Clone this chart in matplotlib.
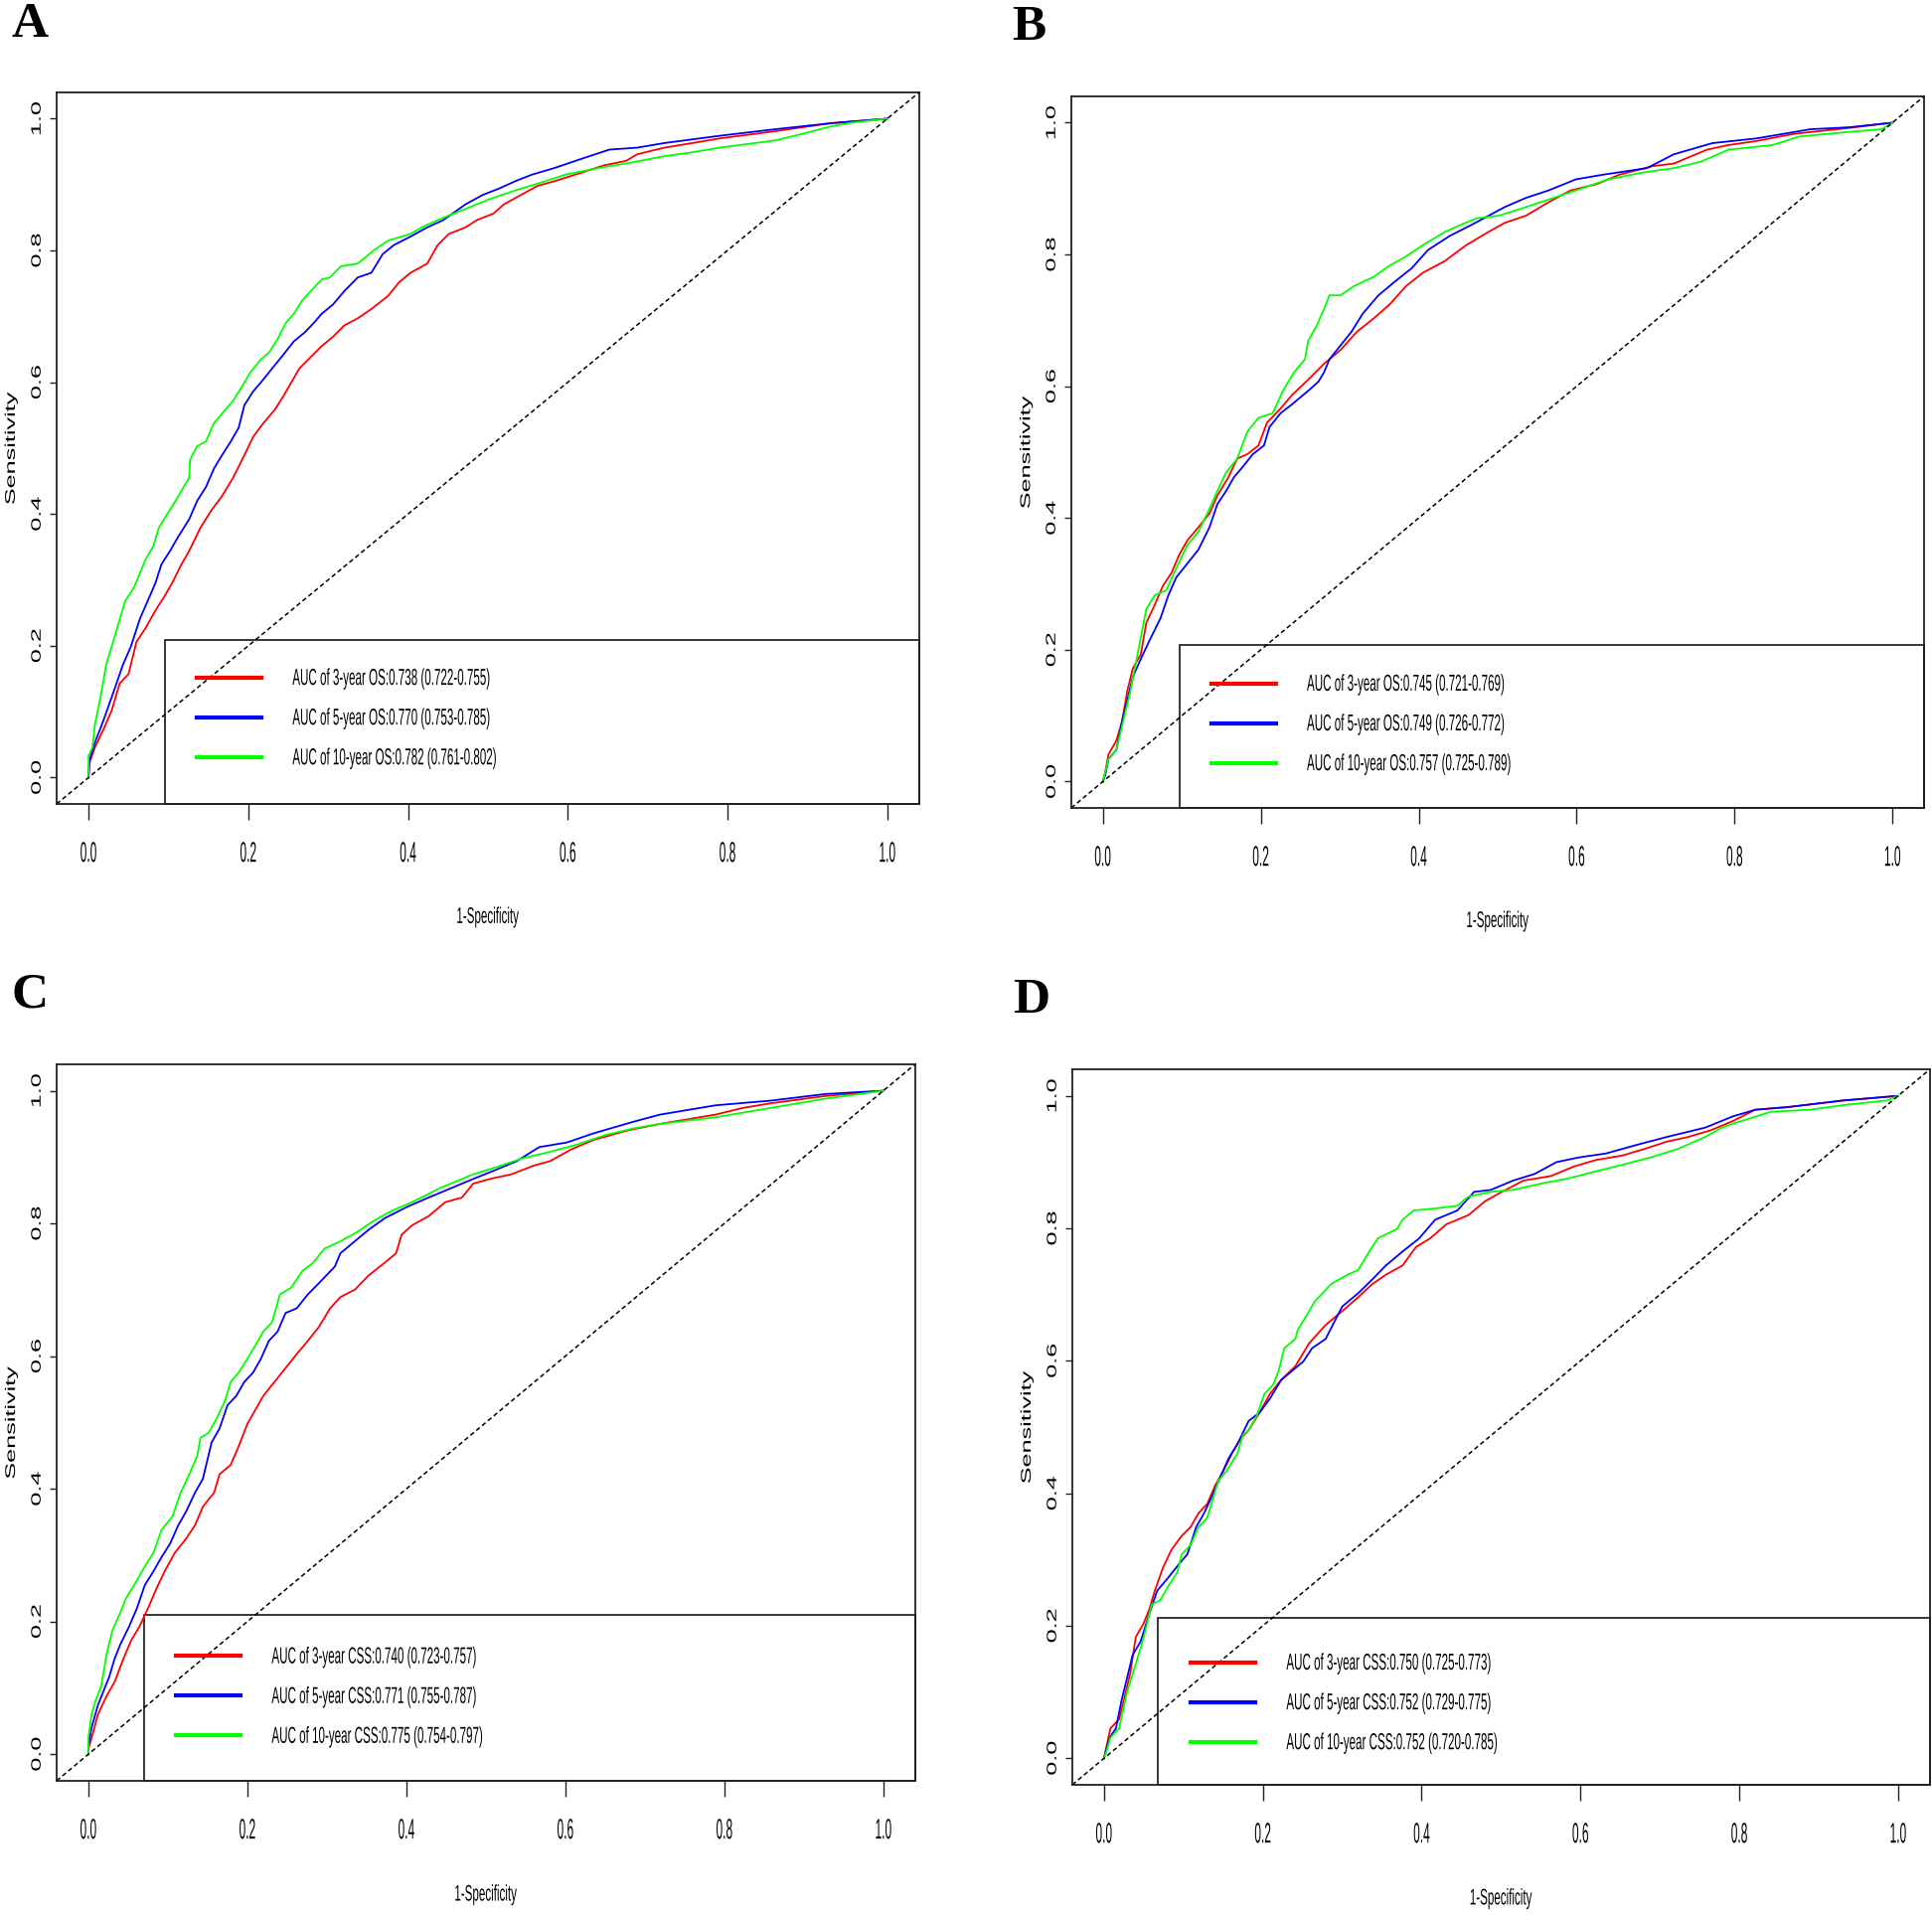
import matplotlib
matplotlib.use("Agg")
import matplotlib.pyplot as plt
from matplotlib.patches import Rectangle
from matplotlib.patheffects import AbstractPathEffect
from matplotlib.transforms import Affine2D

# ---- data (1-specificity, sensitivity) ----
a_fpr_3y = [0, 0.001, 0.008, 0.019, 0.029, 0.039, 0.050, 0.060, 0.071, 0.084, 0.095, 0.105, 0.116, 0.126, 0.140, 0.154, 0.167, 0.181, 0.195, 0.206, 0.219, 0.233, 0.244, 0.254, 0.264, 0.278, 0.292, 0.306, 0.320, 0.337, 0.354, 0.375, 0.389, 0.403, 0.424, 0.437, 0.451, 0.472, 0.486, 0.507, 0.520, 0.541, 0.562, 0.583, 0.617, 0.645, 0.673, 0.687, 0.721, 0.756, 0.790, 0.860, 0.929, 1.0]
a_tpr_3y = [0, 0.022, 0.046, 0.074, 0.102, 0.143, 0.157, 0.206, 0.226, 0.254, 0.275, 0.296, 0.323, 0.344, 0.379, 0.406, 0.427, 0.455, 0.489, 0.517, 0.538, 0.558, 0.579, 0.600, 0.621, 0.638, 0.655, 0.669, 0.686, 0.697, 0.711, 0.731, 0.752, 0.766, 0.780, 0.808, 0.825, 0.835, 0.846, 0.856, 0.870, 0.884, 0.898, 0.905, 0.918, 0.929, 0.936, 0.946, 0.956, 0.963, 0.970, 0.981, 0.993, 1.0]
a_fpr_5y = [0, 0.001, 0.008, 0.019, 0.029, 0.043, 0.053, 0.064, 0.074, 0.084, 0.091, 0.102, 0.112, 0.126, 0.136, 0.147, 0.157, 0.167, 0.178, 0.188, 0.195, 0.206, 0.216, 0.230, 0.244, 0.257, 0.271, 0.282, 0.292, 0.306, 0.320, 0.337, 0.354, 0.368, 0.382, 0.403, 0.424, 0.444, 0.472, 0.493, 0.514, 0.534, 0.555, 0.583, 0.617, 0.652, 0.687, 0.721, 0.790, 0.860, 0.929, 1.0]
a_tpr_5y = [0, 0.026, 0.053, 0.088, 0.122, 0.171, 0.199, 0.240, 0.268, 0.296, 0.323, 0.344, 0.365, 0.392, 0.420, 0.441, 0.469, 0.489, 0.510, 0.531, 0.565, 0.586, 0.600, 0.621, 0.642, 0.662, 0.676, 0.690, 0.704, 0.718, 0.738, 0.759, 0.766, 0.794, 0.808, 0.821, 0.835, 0.846, 0.870, 0.884, 0.894, 0.905, 0.915, 0.925, 0.939, 0.953, 0.956, 0.963, 0.974, 0.984, 0.993, 1.0]
a_fpr_10y = [0, 0, 0.005, 0.008, 0.015, 0.022, 0.029, 0.039, 0.046, 0.057, 0.064, 0.071, 0.081, 0.088, 0.098, 0.109, 0.119, 0.126, 0.127, 0.136, 0.147, 0.157, 0.167, 0.181, 0.192, 0.202, 0.216, 0.226, 0.237, 0.247, 0.257, 0.268, 0.278, 0.292, 0.302, 0.316, 0.337, 0.358, 0.375, 0.403, 0.417, 0.437, 0.451, 0.472, 0.500, 0.534, 0.569, 0.597, 0.638, 0.673, 0.721, 0.756, 0.790, 0.860, 0.894, 0.929, 0.956, 1.0]
a_tpr_10y = [0, 0.033, 0.046, 0.081, 0.122, 0.171, 0.199, 0.240, 0.268, 0.289, 0.309, 0.330, 0.351, 0.379, 0.399, 0.420, 0.441, 0.455, 0.482, 0.503, 0.510, 0.538, 0.552, 0.572, 0.593, 0.614, 0.635, 0.645, 0.666, 0.690, 0.704, 0.725, 0.738, 0.756, 0.759, 0.776, 0.780, 0.801, 0.815, 0.825, 0.835, 0.846, 0.853, 0.863, 0.877, 0.891, 0.904, 0.915, 0.925, 0.932, 0.943, 0.949, 0.956, 0.967, 0.977, 0.988, 0.994, 1.0]

b_fpr_3y = [0, 0.003, 0.007, 0.017, 0.024, 0.031, 0.038, 0.048, 0.055, 0.066, 0.076, 0.087, 0.097, 0.107, 0.121, 0.135, 0.145, 0.159, 0.170, 0.183, 0.197, 0.208, 0.225, 0.239, 0.260, 0.280, 0.301, 0.322, 0.343, 0.363, 0.384, 0.405, 0.433, 0.460, 0.488, 0.509, 0.536, 0.564, 0.592, 0.626, 0.654, 0.696, 0.723, 0.765, 0.792, 0.827, 0.875, 0.945, 1.0]
b_tpr_3y = [0, 0.014, 0.041, 0.062, 0.090, 0.138, 0.172, 0.193, 0.241, 0.269, 0.297, 0.317, 0.345, 0.366, 0.386, 0.407, 0.434, 0.462, 0.490, 0.497, 0.510, 0.545, 0.566, 0.586, 0.610, 0.634, 0.655, 0.683, 0.703, 0.724, 0.752, 0.772, 0.790, 0.814, 0.834, 0.848, 0.859, 0.879, 0.897, 0.907, 0.921, 0.934, 0.938, 0.959, 0.966, 0.972, 0.983, 0.992, 1.0]
b_fpr_5y = [0, 0.003, 0.007, 0.017, 0.024, 0.031, 0.038, 0.048, 0.059, 0.073, 0.083, 0.093, 0.107, 0.121, 0.135, 0.145, 0.156, 0.166, 0.176, 0.190, 0.204, 0.211, 0.225, 0.239, 0.260, 0.273, 0.280, 0.287, 0.301, 0.315, 0.329, 0.349, 0.370, 0.391, 0.412, 0.439, 0.467, 0.509, 0.536, 0.564, 0.599, 0.633, 0.689, 0.723, 0.772, 0.827, 0.896, 0.945, 1.0]
b_tpr_5y = [0, 0.010, 0.034, 0.048, 0.090, 0.124, 0.159, 0.186, 0.214, 0.248, 0.283, 0.310, 0.331, 0.352, 0.386, 0.421, 0.441, 0.462, 0.476, 0.497, 0.510, 0.538, 0.559, 0.572, 0.593, 0.607, 0.621, 0.641, 0.662, 0.683, 0.710, 0.738, 0.759, 0.779, 0.807, 0.828, 0.845, 0.872, 0.886, 0.897, 0.914, 0.921, 0.931, 0.952, 0.969, 0.976, 0.990, 0.993, 1.0]
b_fpr_10y = [0, 0.003, 0.007, 0.017, 0.028, 0.035, 0.045, 0.055, 0.066, 0.080, 0.093, 0.107, 0.121, 0.135, 0.145, 0.156, 0.170, 0.183, 0.197, 0.215, 0.228, 0.242, 0.256, 0.260, 0.270, 0.280, 0.287, 0.301, 0.318, 0.343, 0.363, 0.384, 0.405, 0.433, 0.453, 0.474, 0.502, 0.536, 0.571, 0.606, 0.640, 0.682, 0.723, 0.758, 0.792, 0.848, 0.882, 0.945, 0.986, 1.0]
b_tpr_10y = [0, 0.014, 0.034, 0.048, 0.103, 0.138, 0.200, 0.262, 0.283, 0.290, 0.324, 0.359, 0.379, 0.414, 0.441, 0.469, 0.490, 0.531, 0.552, 0.559, 0.593, 0.621, 0.641, 0.669, 0.690, 0.717, 0.738, 0.738, 0.752, 0.766, 0.783, 0.797, 0.814, 0.834, 0.845, 0.855, 0.859, 0.872, 0.886, 0.900, 0.914, 0.924, 0.931, 0.941, 0.959, 0.966, 0.979, 0.986, 0.990, 1.0]

c_fpr_3y = [0, 0, 0.006, 0.012, 0.023, 0.033, 0.044, 0.054, 0.064, 0.075, 0.085, 0.096, 0.109, 0.123, 0.134, 0.144, 0.158, 0.165, 0.179, 0.189, 0.200, 0.210, 0.220, 0.234, 0.248, 0.262, 0.276, 0.290, 0.304, 0.317, 0.335, 0.352, 0.373, 0.387, 0.394, 0.407, 0.428, 0.449, 0.470, 0.484, 0.505, 0.532, 0.560, 0.581, 0.608, 0.636, 0.678, 0.719, 0.789, 0.823, 0.858, 0.927, 1.0]
c_tpr_3y = [0, 0.008, 0.033, 0.060, 0.088, 0.109, 0.144, 0.172, 0.192, 0.220, 0.248, 0.276, 0.304, 0.325, 0.345, 0.373, 0.394, 0.422, 0.436, 0.464, 0.498, 0.519, 0.540, 0.561, 0.582, 0.603, 0.623, 0.644, 0.672, 0.689, 0.700, 0.721, 0.741, 0.755, 0.783, 0.797, 0.811, 0.832, 0.839, 0.860, 0.867, 0.874, 0.887, 0.894, 0.912, 0.926, 0.940, 0.950, 0.964, 0.974, 0.981, 0.992, 1.0]
c_fpr_5y = [0, 0, 0.004, 0.012, 0.019, 0.026, 0.033, 0.040, 0.051, 0.061, 0.071, 0.082, 0.092, 0.103, 0.113, 0.123, 0.134, 0.144, 0.155, 0.165, 0.175, 0.186, 0.196, 0.207, 0.217, 0.227, 0.238, 0.248, 0.262, 0.276, 0.290, 0.310, 0.317, 0.331, 0.352, 0.373, 0.401, 0.428, 0.456, 0.484, 0.511, 0.539, 0.567, 0.602, 0.636, 0.685, 0.719, 0.789, 0.858, 0.927, 1.0]
c_tpr_5y = [0, 0.012, 0.040, 0.074, 0.095, 0.116, 0.144, 0.165, 0.192, 0.220, 0.255, 0.276, 0.297, 0.318, 0.345, 0.366, 0.394, 0.415, 0.470, 0.491, 0.526, 0.540, 0.561, 0.575, 0.596, 0.623, 0.637, 0.665, 0.672, 0.693, 0.710, 0.735, 0.755, 0.769, 0.790, 0.808, 0.825, 0.839, 0.853, 0.867, 0.880, 0.894, 0.915, 0.922, 0.936, 0.953, 0.964, 0.978, 0.985, 0.995, 1.0]
c_fpr_10y = [0, 0, 0.004, 0.009, 0.016, 0.023, 0.030, 0.040, 0.047, 0.061, 0.071, 0.082, 0.092, 0.106, 0.116, 0.127, 0.137, 0.141, 0.151, 0.161, 0.172, 0.179, 0.189, 0.200, 0.210, 0.220, 0.231, 0.241, 0.255, 0.269, 0.283, 0.297, 0.317, 0.338, 0.359, 0.380, 0.407, 0.442, 0.484, 0.511, 0.546, 0.581, 0.615, 0.650, 0.685, 0.719, 0.789, 0.858, 0.927, 1.0]
c_tpr_10y = [0, 0.026, 0.060, 0.081, 0.102, 0.151, 0.186, 0.213, 0.234, 0.262, 0.283, 0.304, 0.338, 0.359, 0.394, 0.422, 0.450, 0.477, 0.484, 0.505, 0.533, 0.561, 0.575, 0.596, 0.616, 0.637, 0.651, 0.693, 0.703, 0.728, 0.741, 0.762, 0.773, 0.787, 0.804, 0.818, 0.832, 0.853, 0.874, 0.884, 0.898, 0.908, 0.919, 0.933, 0.943, 0.950, 0.960, 0.974, 0.988, 1.0]

d_fpr_3y = [0, 0.003, 0.008, 0.019, 0.026, 0.033, 0.040, 0.050, 0.057, 0.064, 0.074, 0.085, 0.098, 0.109, 0.119, 0.130, 0.140, 0.150, 0.161, 0.171, 0.182, 0.196, 0.209, 0.223, 0.241, 0.258, 0.279, 0.300, 0.320, 0.338, 0.355, 0.376, 0.393, 0.411, 0.431, 0.459, 0.480, 0.501, 0.528, 0.563, 0.591, 0.619, 0.653, 0.681, 0.709, 0.736, 0.764, 0.792, 0.820, 0.861, 0.931, 1.0]
d_tpr_3y = [0, 0.017, 0.045, 0.059, 0.093, 0.128, 0.183, 0.204, 0.225, 0.253, 0.287, 0.315, 0.336, 0.349, 0.370, 0.384, 0.412, 0.433, 0.460, 0.481, 0.495, 0.522, 0.550, 0.571, 0.592, 0.626, 0.654, 0.675, 0.696, 0.716, 0.730, 0.744, 0.772, 0.785, 0.806, 0.820, 0.841, 0.855, 0.872, 0.879, 0.893, 0.903, 0.910, 0.920, 0.931, 0.938, 0.948, 0.962, 0.979, 0.983, 0.993, 1.0]
d_fpr_5y = [0, 0.003, 0.007, 0.015, 0.022, 0.029, 0.036, 0.046, 0.057, 0.067, 0.081, 0.095, 0.105, 0.116, 0.126, 0.137, 0.147, 0.157, 0.168, 0.182, 0.196, 0.209, 0.223, 0.237, 0.251, 0.262, 0.279, 0.300, 0.320, 0.338, 0.355, 0.376, 0.397, 0.417, 0.445, 0.466, 0.487, 0.515, 0.542, 0.570, 0.598, 0.632, 0.674, 0.709, 0.757, 0.792, 0.820, 0.861, 0.931, 1.0]
d_tpr_5y = [0, 0.014, 0.031, 0.045, 0.087, 0.121, 0.156, 0.176, 0.218, 0.253, 0.273, 0.294, 0.308, 0.349, 0.370, 0.398, 0.426, 0.453, 0.474, 0.509, 0.522, 0.543, 0.571, 0.585, 0.599, 0.619, 0.633, 0.682, 0.702, 0.723, 0.744, 0.765, 0.785, 0.813, 0.827, 0.855, 0.858, 0.872, 0.882, 0.900, 0.907, 0.913, 0.927, 0.938, 0.952, 0.969, 0.979, 0.983, 0.993, 1.0]
d_fpr_10y = [0, 0.003, 0.008, 0.019, 0.029, 0.040, 0.050, 0.060, 0.071, 0.081, 0.092, 0.098, 0.109, 0.119, 0.130, 0.137, 0.144, 0.154, 0.168, 0.175, 0.182, 0.192, 0.202, 0.213, 0.220, 0.227, 0.241, 0.244, 0.255, 0.265, 0.286, 0.307, 0.320, 0.334, 0.345, 0.369, 0.376, 0.390, 0.417, 0.445, 0.459, 0.487, 0.515, 0.556, 0.584, 0.619, 0.653, 0.688, 0.723, 0.757, 0.778, 0.792, 0.840, 0.889, 0.931, 0.986, 1.0]
d_tpr_10y = [0, 0.010, 0.031, 0.045, 0.100, 0.142, 0.183, 0.232, 0.239, 0.260, 0.280, 0.308, 0.322, 0.349, 0.363, 0.391, 0.419, 0.433, 0.460, 0.488, 0.495, 0.516, 0.550, 0.564, 0.585, 0.619, 0.633, 0.647, 0.668, 0.689, 0.716, 0.730, 0.737, 0.765, 0.785, 0.799, 0.813, 0.827, 0.830, 0.834, 0.848, 0.855, 0.858, 0.869, 0.875, 0.886, 0.896, 0.907, 0.920, 0.938, 0.952, 0.958, 0.976, 0.979, 0.986, 0.993, 1.0]

a_labels = ["AUC of 3-year OS:0.738 (0.722-0.755)",
            "AUC of 5-year OS:0.770 (0.753-0.785)",
            "AUC of 10-year OS:0.782 (0.761-0.802)"]
b_labels = ["AUC of 3-year OS:0.745 (0.721-0.769)",
            "AUC of 5-year OS:0.749 (0.726-0.772)",
            "AUC of 10-year OS:0.757 (0.725-0.789)"]
c_labels = ["AUC of 3-year CSS:0.740 (0.723-0.757)",
            "AUC of 5-year CSS:0.771 (0.755-0.787)",
            "AUC of 10-year CSS:0.775 (0.754-0.797)"]
d_labels = ["AUC of 3-year CSS:0.750 (0.725-0.773)",
            "AUC of 5-year CSS:0.752 (0.729-0.775)",
            "AUC of 10-year CSS:0.752 (0.720-0.785)"]

panel_letters = ["A", "B", "C", "D"]
tick_values = [0.0, 0.2, 0.4, 0.6, 0.8, 1.0]
tick_labels = ["0.0", "0.2", "0.4", "0.6", "0.8", "1.0"]
curve_colors = ["#ff0000", "#0000ff", "#00ff00"]


class Squash(AbstractPathEffect):
    """draws text squeezed / stretched like the resized original image"""
    def __init__(self, sx=1.0, sy=1.0, left=False):
        super().__init__()
        self.sx = sx
        self.sy = sy
        self.left = left

    def draw_path(self, renderer, gc, tpath, affine, rgbFace=None):
        bb = tpath.get_extents(affine)
        cx = bb.x0 if self.left else (bb.x0 + bb.x1) / 2
        cy = (bb.y0 + bb.y1) / 2
        t = Affine2D().translate(-cx, -cy).scale(self.sx, self.sy).translate(cx, cy)
        renderer.draw_path(gc, tpath, affine + t, rgbFace)


FONT = "Liberation Sans"


def dibujar_panel(ax, curvas, etiquetas, caja_x0, caja_top, ley_x, ley_y):
    for (fpr, tpr), col in zip(curvas, curve_colors):
        ax.plot(fpr, tpr, color=col, lw=1.3)
    ax.axline((0, 0), (1, 1), color="black", lw=1.1, ls=(0, (3, 2)))

    ax.set_xlim(-0.04, 1.04)
    ax.set_ylim(-0.04, 1.04)
    ax.set_xticks(tick_values)
    ax.set_xticklabels(tick_labels)
    ax.set_yticks(tick_values)
    ax.set_yticklabels(tick_labels)
    ax.tick_params(axis="x", length=11.5, width=1.0, pad=19, labelsize=10.5,
                   color="#222222")
    ax.tick_params(axis="y", length=5, width=1.0, pad=4.5, labelsize=9.8,
                   labelrotation=90, color="#222222")
    for lbl in ax.get_xticklabels():
        lbl.set_fontfamily(FONT)
        lbl.set_path_effects([Squash(0.82, 1.97)])
    for lbl in ax.get_yticklabels():
        lbl.set_fontfamily(FONT)
        lbl.set_va("center")
        lbl.set_path_effects([Squash(1.0, 1.85)])
    for s in ax.spines.values():
        s.set_linewidth(1.3)
        s.set_color("#222222")

    ax.set_xlabel("1-Specificity", fontsize=10.2, family=FONT,
                  path_effects=[Squash(0.82, 1.6)])
    ax.xaxis.set_label_coords(0.5, -0.149)
    ax.set_ylabel("Sensitivity", fontsize=10.2, family=FONT,
                  path_effects=[Squash(1.0, 1.78)])
    ax.yaxis.set_label_coords(-0.045, 0.5)

    # legend frame drawn to the lower right corner, like R's legend box
    ax.add_patch(Rectangle((caja_x0, 0), 1 - caja_x0, caja_top, transform=ax.transAxes,
                           fill=False, ec="black", lw=1.1, clip_on=False))
    ley = ax.legend(ax.get_lines()[:3], etiquetas, loc="upper left",
                    bbox_to_anchor=(ley_x, ley_y), bbox_transform=ax.transAxes,
                    frameon=False, borderpad=0, borderaxespad=0,
                    handlelength=4.6, handletextpad=2.2, labelspacing=1.84,
                    prop={"family": FONT, "size": 10.2})
    for h in ley.get_lines():
        h.set_linewidth(3)
    for t in ley.get_texts():
        t.set_path_effects([Squash(0.82, 1.64, left=True)])


fig = plt.figure(figsize=(19.44, 19.27), dpi=100)

posiciones = [[0.0293, 0.5802, 0.4465, 0.3716],
              [0.5545, 0.5781, 0.4414, 0.3716],
              [0.0293, 0.0701, 0.4444, 0.3742],
              [0.5550, 0.0680, 0.4439, 0.3736]]
curvas = [
    [(a_fpr_3y, a_tpr_3y), (a_fpr_5y, a_tpr_5y), (a_fpr_10y, a_tpr_10y)],
    [(b_fpr_3y, b_tpr_3y), (b_fpr_5y, b_tpr_5y), (b_fpr_10y, b_tpr_10y)],
    [(c_fpr_3y, c_tpr_3y), (c_fpr_5y, c_tpr_5y), (c_fpr_10y, c_tpr_10y)],
    [(d_fpr_3y, d_tpr_3y), (d_fpr_5y, d_tpr_5y), (d_fpr_10y, d_tpr_10y)],
]
etiquetas = [a_labels, b_labels, c_labels, d_labels]
cajas = [(0.1256, 0.2304, 0.1624, 0.1860),
         (0.127, 0.2297, 0.164, 0.1835),
         (0.102, 0.2308, 0.139, 0.1825),
         (0.1003, 0.233, 0.138, 0.1795)]
letras_pos = [(0.006, 0.981), (0.524, 0.979), (0.006, 0.474), (0.524, 0.471)]

for i in range(4):
    ax = fig.add_axes(posiciones[i])
    x0, top, lx, ly = cajas[i]
    dibujar_panel(ax, curvas[i], etiquetas[i], x0, top, lx, ly)
    fig.text(letras_pos[i][0], letras_pos[i][1], panel_letters[i],
             family="Liberation Serif", weight="bold", fontsize=37, va="baseline")

fig.savefig("out.png", dpi=100)
